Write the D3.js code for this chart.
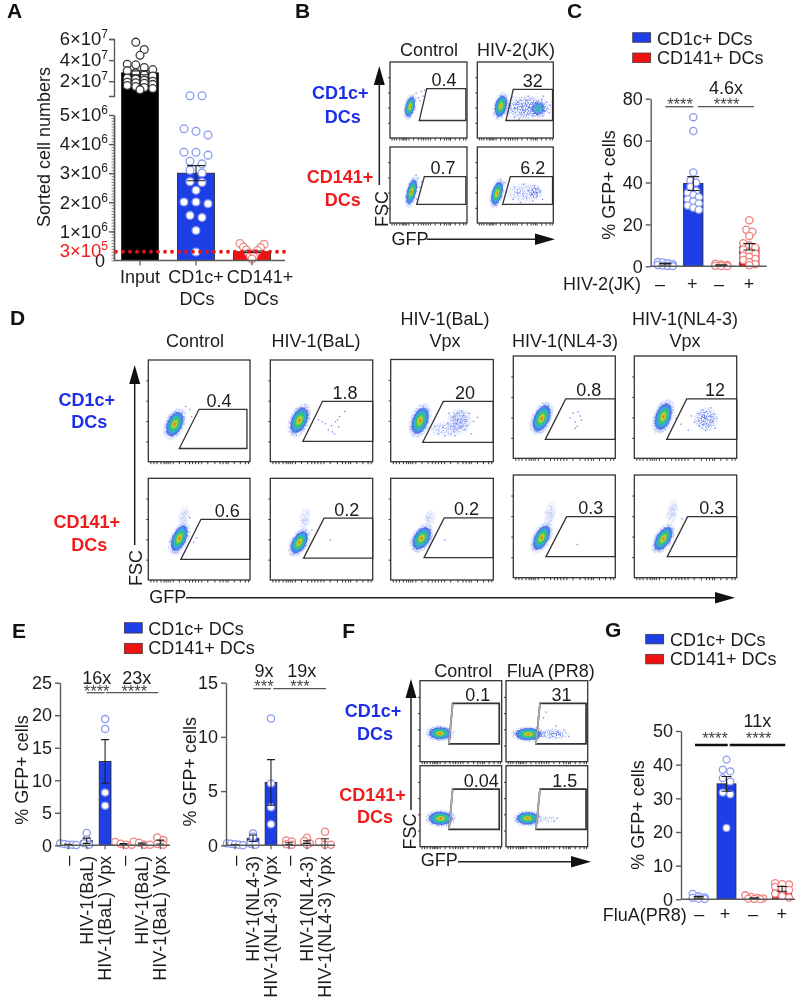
<!DOCTYPE html>
<html>
<head>
<meta charset="utf-8">
<script src="https://cdn.jsdelivr.net/npm/d3@7"></script>
<style>
  html, body { margin: 0; padding: 0; background: #fff; }
  svg { display: block; filter: blur(0.3px); }
  text { font-family: "Liberation Sans", Arial, sans-serif; font-size: 18px; fill: #1c1c1c; }
</style>
</head>
<body>
<svg id="fig" width="800" height="1007"></svg>
<script>
// ---- panel A
const aCategories = ['Input', 'CD1c+', 'CD141+'];
const aBars = [2.8e7, 3.0e6, 3.0e5];
const aErrors = [1.8e6, 2.6e5, 2.5e4];
const aTicksHigh = [6e7, 4e7, 2e7];
const aTicksLow = [5e6, 4e6, 3e6, 2e6, 1e6];
const aInput = [57e6, 50e6, 44.5e6, 36e6, 35.5e6, 33e6, 31e6, 30e6, 28e6, 26e6, 25e6, 23e6, 22e6, 21e6, 20e6, 19e6, 18.5e6, 18e6, 17e6, 16e6, 15e6, 14e6, 13e6, 12e6];
const aCd1c = [6.3e6, 6.3e6, 4.53e6, 4.44e6, 4.31e6, 3.72e6, 3.72e6, 3.62e6, 3.41e6, 3.32e6, 3.1e6, 3.01e6, 2.71e6, 2.68e6, 2.41e6, 2.01e6, 2.01e6, 1.95e6, 1.55e6, 1.48e6, 1.03e6, 2.9e5];
const aCd141 = [5.8e5, 5.6e5, 4.6e5, 4.4e5, 3.6e5, 3.4e5, 2.6e5, 2.4e5, 1.6e5, 1.4e5, 5e4];

// ---- panel C
const cBars = [1, 39.5, 0.5, 9.3];
const cErrors = [0.4, 3.3, 0.2, 1.5];
const cTicks = [0, 20, 40, 60, 80];
const cPoints = [
  [2, 1.8, 1.4, 1, 0.6, 0.4, 0.2, 0.1],
  [71.2, 64.6, 44.8, 41, 40, 38, 36, 35, 34, 33, 32, 31, 30, 29, 28, 27],
  [1.2, 0.9, 0.6, 0.3, 0.2, 0.1],
  [22, 17.5, 16.5, 14.5, 11, 10, 9, 8, 7, 6, 5, 4.5, 3.5, 3, 2, 1, 0.5]
];

// ---- panel E
const eLabelsBal = ['–', 'HIV-1(BaL)', 'HIV-1(BaL) Vpx', '–', 'HIV-1(BaL)', 'HIV-1(BaL) Vpx'];
const eLabelsNl = ['–', 'HIV-1(NL4-3)', 'HIV-1(NL4-3) Vpx', '–', 'HIV-1(NL4-3)', 'HIV-1(NL4-3) Vpx'];
const eBarsBal = [0.1, 0.7, 12.9, 0.2, 0.25, 0.5];
const eErrorsBal = [0.05, 0.4, 3.35, 0.08, 0.1, 0.3];
const eTicksBal = [0, 5, 10, 15, 20, 25];
const ePointsBal = [
  [0.3, 0.2, 0.1, 0.1, 0.05],
  [1.9, 0.9, 0.3, 0.1],
  [19.4, 17.9, 8.1, 6.1],
  [0.5, 0.25, 0.1, 0.1],
  [0.55, 0.4, 0.1, 0.1],
  [1.2, 0.8, 0.2, 0.1]
];
const eBarsNl = [0.05, 0.65, 5.8, 0.15, 0.3, 0.3];
const eErrorsNl = [0.03, 0.3, 2.1, 0.08, 0.12, 0.3];
const eTicksNl = [0, 5, 10, 15];
const ePointsNl = [
  [0.2, 0.15, 0.1, 0.05, 0],
  [1.1, 0.8, 0.15, 0.05],
  [11.7, 5.7, 3.5, 1.95],
  [0.45, 0.35, 0.1, 0.05],
  [0.7, 0.4, 0.2, 0.05],
  [1.25, 0.3, 0.05, 0.05]
];

// ---- panel G
const gBars = [0.6, 34.3, 0.3, 3.1];
const gErrors = [0.25, 2.2, 0.15, 0.7];
const gTicks = [0, 10, 20, 30, 40, 50];
const gPoints = [
  [1.6, 0.9, 0.6, 0.4, 0.2, 0.1],
  [41.5, 38.5, 38, 36, 35, 31.7, 31.2, 21.2],
  [1.2, 0.7, 0.4, 0.3, 0.2, 0.1, 0.05],
  [4.8, 4.5, 4.4, 3.7, 3, 2.8, 1.7, 1, 0.5]
];

// ---- flow plots, all read in plot units 0-100 (y going down)
// gate = [top-left x, top y, bottom-left x, bottom y, right x]
// cloud = [x, y, x radius, y radius, tilt, kind]
const bPercents = ['0.4', '32', '0.7', '6.2'];
const bLabelX = [70, 73, 69, 73];
const bGates = [[47.7, 35, 38, 77, 98.5], [47.3, 36, 37.7, 77, 99], [44.6, 39, 34.7, 75.4, 98.5], [43.5, 39, 33.4, 75.4, 99]];
const bClouds = [
  [[26, 59, 8, 18, 14, 'dense']],
  [[31, 58, 10, 19, 14, 'dense'], [80, 61, 12, 11, 0, 'mid'], [64, 60, 34, 16, 0, 'sparse']],
  [[28, 59, 8, 22, 14, 'dense']],
  [[26, 61, 9, 21, 16, 'dense'], [76, 59, 10, 10, 0, 'sparse'], [60, 60, 24, 14, 0, 'faint']]
];
const bEvents = [
  [[40, 38], [44, 36], [42, 44], [38, 50], [36, 46], [33, 40]],
  [[45, 45], [50, 60], [52, 52], [55, 66], [57, 50], [58, 60], [60, 70], [62, 54], [63, 62], [65, 50], [66, 68], [68, 56], [70, 62], [71, 47], [72, 70], [74, 55], [75, 64], [77, 50], [78, 60], [80, 68], [81, 54], [83, 62], [84, 48], [85, 70], [87, 58], [88, 64], [90, 52], [92, 60], [94, 66], [95, 56], [48, 72], [54, 74], [66, 44], [86, 44]],
  [[40, 45], [36, 40], [38, 52], [33, 36], [34, 68]],
  [[36, 46], [48, 52], [52, 60], [56, 72], [60, 48], [64, 66], [66, 56], [70, 62], [72, 70], [74, 50], [78, 64], [82, 58], [46, 68], [85, 68]]
];

const dPercents = ['0.4', '1.8', '20', '0.8', '12', '0.6', '0.2', '0.2', '0.3', '0.3'];
const dLabelX = [69.5, 73, 72.4, 74, 78.8, 77.7, 74.6, 74, 75.9, 75.6];
const dGates = [
  [49.9, 48.5, 30.5, 87, 97], [51, 40.6, 31.8, 80, 100], [51.3, 41, 31.2, 81, 100], [51.4, 42, 31.4, 81.5, 100], [51.2, 42, 31.6, 81.5, 100],
  [51.8, 40.3, 32, 79.7, 100], [52.5, 39.2, 32.5, 78.5, 100], [52.2, 39, 32.5, 78, 100], [52.3, 40.6, 32, 79.5, 100], [52.1, 40.6, 32.2, 79.5, 100]
];
const dClouds = [
  [[26, 63, 10, 17, 24, 'dense']],
  [[28.3, 59.3, 10, 18, 24, 'dense']],
  [[28.6, 60, 10, 18, 20, 'dense'], [67, 60, 12, 12, 10, 'sparse'], [55, 68, 20, 8, 0, 'faint']],
  [[27.8, 61, 10, 18, 24, 'dense']],
  [[28.3, 59.3, 10, 18, 20, 'dense'], [70, 62, 12, 12, 0, 'sparse']],
  [[30.5, 59, 9, 18, 24, 'dense'], [35, 38, 6, 12, 14, 'faint']],
  [[28.3, 63, 9, 16, 30, 'dense'], [34, 40, 6, 12, 10, 'faint']],
  [[30.2, 59, 10, 16, 32, 'dense'], [38, 39, 6, 9, 10, 'faint']],
  [[27.8, 61, 9, 17, 28, 'dense'], [36, 38, 6, 13, 10, 'faint']],
  [[28.3, 62, 9, 17, 32, 'dense'], [37, 36, 6, 13, 10, 'faint']]
];
const dEvents = [
  [[40, 48], [42, 55], [36, 45]],
  [[46, 58], [50, 60], [53, 62], [56, 68], [59, 64], [60, 70], [62, 72], [63, 60], [65, 58], [66, 65], [67, 55], [72, 50]],
  [[42, 65], [46, 72], [50, 66], [52, 74], [55, 62], [58, 72], [60, 56], [61, 70], [63, 62], [64, 52], [65, 58], [66, 66], [68, 50], [69, 60], [70, 54], [71, 68], [72, 58], [74, 64], [76, 52], [78, 72], [80, 60], [84, 56], [62, 74], [56, 52]],
  [[55, 60], [58, 55], [60, 64], [63, 54], [65, 58], [62, 68], [60, 70], [66, 62]],
  [[40, 60], [45, 66], [52, 72], [55, 58], [58, 64], [62, 56], [63, 68], [65, 60], [66, 52], [67, 66], [68, 58], [69, 72], [70, 54], [71, 62], [72, 68], [73, 58], [74, 50], [75, 64], [77, 56], [78, 70], [80, 60]],
  [[44, 62], [46, 50], [40, 38], [47, 58]],
  [[40, 50], [58, 60]],
  [[52, 60]],
  [[62, 67]],
  [[46, 42]]
];

const fPercents = ['0.1', '31', '0.04', '1.5'];
const fLabelX = [70.6, 68, 75, 72];
const fGates = [[40, 28, 35.5, 78, 97], [41.6, 28, 36.7, 78, 98], [40, 29, 35.5, 78.5, 97], [41.6, 29, 36.7, 78.5, 98]];
const fClouds = [
  [[24.5, 65, 18, 10, 0, 'dense']],
  [[27.3, 66, 21, 10, 0, 'dense'], [58, 66, 19, 7, 0, 'sparse']],
  [[25.3, 65, 19, 11, 0, 'dense']],
  [[26.5, 65, 18, 10, 0, 'dense'], [52, 66, 12, 5, 0, 'faint']]
];
const fEvents = [[], [[45, 45], [48, 38], [60, 55], [70, 60], [76, 68]], [], [[58, 68], [62, 64]]];

const flowTicksY = [20, 40, 60, 80];
const flowTicksX = [2, 5, 8, 12, 15, 17, 19, 21, 24, 30, 36, 40, 43, 46, 49, 52, 58, 65, 70, 73, 76, 78, 84, 90, 95, 98];

// ---- colours
const blue = '#1e3fe6', red = '#f01212', blueText = '#1c2ee8', redText = '#f01c1c';
const blueRing = '#8b9cf0', redRing = '#f08282', darkRing = '#3a3a3a';
const axisGray = '#5a5a5a';

const svg = d3.select('#fig');

// gradients and a speckle texture for the flow populations
const defs = svg.append('defs');
function addGradient(id, stops) {
  const g = defs.append('radialGradient').attr('id', id);
  stops.forEach(s => g.append('stop').attr('offset', s[0]).attr('stop-color', s[1]).attr('stop-opacity', s[2]));
}
addGradient('dense', [[0, '#e8261a', 1], [0.1, '#f0a020', 1], [0.24, '#a8d83a', 1], [0.42, '#35c46a', 1], [0.64, '#2ea6dc', 0.95], [0.86, '#3a5fe8', 0.8], [1, '#5a78ec', 0]]);
addGradient('mid', [[0, '#35c46a', 0.9], [0.45, '#2ea6dc', 0.8], [0.8, '#3a5fe8', 0.6], [1, '#5a78ec', 0]]);
addGradient('halo', [[0, '#3a5ae8', 0.9], [0.75, '#5a78ec', 0.85], [1, '#9db0f4', 0.4]]);
addGradient('sparse', [[0, '#4a68e8', 0.95], [0.6, '#6e88ee', 0.8], [1, '#a0b2f5', 0.25]]);
addGradient('faint', [[0, '#7c92ee', 0.75], [0.6, '#93a6f2', 0.55], [1, '#b0c0f6', 0.1]]);
const grain = defs.append('filter').attr('id', 'grain').attr('x', '-10%').attr('y', '-10%').attr('width', '120%').attr('height', '120%')
  .attr('color-interpolation-filters', 'sRGB');
grain.append('feTurbulence').attr('type', 'fractalNoise').attr('baseFrequency', 0.75).attr('numOctaves', 2).attr('seed', 4).attr('result', 'n');
grain.append('feColorMatrix').attr('in', 'n').attr('type', 'matrix')
  .attr('values', '0 0 0 0 0  0 0 0 0 0  0 0 0 0 0  5 0 0 0 -2.1').attr('result', 'mask');
grain.append('feComposite').attr('in', 'SourceGraphic').attr('in2', 'mask').attr('operator', 'in');

function label(x, y, str, opts) {
  opts = opts || {};
  const t = svg.append('text').attr('x', x).attr('y', y).text(str)
    .attr('text-anchor', opts.anchor || 'middle');
  if (opts.size) t.style('font-size', opts.size + 'px');
  if (opts.bold) t.style('font-weight', 'bold');
  if (opts.color) t.style('fill', opts.color);
  return t;
}
function vertical(x, y, str) {
  label(0, 0, str).attr('transform', `translate(${x},${y}) rotate(-90)`);
}
function panelLetter(x, y, str) {
  label(x, y, str, { anchor: 'start', size: 21, bold: true, color: '#111' });
}
function legend(x, y1, y2, textX, base1, base2, h) {
  [[y1, blue, 'CD1c+ DCs', base1], [y2, red, 'CD141+ DCs', base2]].forEach(r => {
    svg.append('rect').attr('x', x).attr('y', r[0]).attr('width', 18).attr('height', h)
      .attr('fill', r[1]).attr('stroke', '#333').attr('stroke-width', 0.7);
    label(textX, r[3], r[2], { anchor: 'start' });
  });
}
function arrow(x1, y1, x2, y2) {
  const vert = x1 === x2;
  svg.append('line').attr('x1', x1).attr('y1', y1).attr('x2', x2).attr('y2', y2)
    .attr('stroke', '#222').attr('stroke-width', 1.5);
  const head = vert
    ? [[x2 - 5.5, y2], [x2 + 5.5, y2], [x2, y2 - 19]]
    : [[x2, y2 - 5.8], [x2, y2 + 5.8], [x2 + 20, y2]];
  svg.append('path').attr('d', d3.line()(head) + 'Z').attr('fill', '#111');
}
function sigLine(x1, x2, y, w) {
  svg.append('line').attr('x1', x1).attr('x2', x2).attr('y1', y).attr('y2', y)
    .attr('stroke', w > 2 ? '#111' : '#555').attr('stroke-width', w || 1.3);
}
function stars(x, y, str) {
  label(x, y, str, { size: 16.5, color: '#444' });
}

// rows of overlapping values get spread sideways around the bar centre
function swarm(values, y, binPx, gap, maxRow) {
  const sorted = values.slice().sort((a, b) => b - a);
  const rows = [];
  sorted.forEach(v => {
    const row = rows[rows.length - 1];
    if (row && row.length < maxRow && y(row[0]) + binPx > y(v)) row.push(v);
    else rows.push([v]);
  });
  const out = [];
  rows.forEach((row, r) => {
    const g = typeof gap === 'function' ? gap(r) : gap;
    row.forEach((v, i) => out.push({ v: v, dx: (i - (row.length - 1) / 2) * g }));
  });
  return out;
}

function drawBars(cfg) {
  const ids = d3.range(cfg.bars.length);
  const x = d3.scaleBand().domain(ids).range(cfg.xRange).paddingInner(cfg.pad).paddingOuter(cfg.pad / 2);
  const y = cfg.y;
  const g = svg.append('g');

  g.selectAll('rect').data(cfg.bars).enter().append('rect')
    .attr('x', (d, i) => x(i)).attr('width', x.bandwidth())
    .attr('y', d => y(d)).attr('height', d => y(0) - y(d))
    .attr('fill', (d, i) => cfg.fills[i]).attr('stroke', '#222').attr('stroke-width', 0.8);

  cfg.points.forEach((vals, i) => {
    const s = cfg.swarm[i];
    g.append('g').selectAll('circle').data(swarm(vals, y, s[0], s[1], s[2])).enter().append('circle')
      .attr('cx', d => x(i) + x.bandwidth() / 2 + d.dx).attr('cy', d => y(d.v)).attr('r', cfg.r)
      .attr('fill', '#fff').attr('stroke', cfg.rings[i]).attr('stroke-width', 1.3);
  });

  // mean +- sem
  cfg.bars.forEach((b, i) => {
    const cx = x(i) + x.bandwidth() / 2, e = cfg.errors[i], cap = cfg.cap;
    const p = d3.path();
    p.moveTo(cx, y(b + e)); p.lineTo(cx, y(Math.max(b - e, 0)));
    p.moveTo(cx - cap, y(b + e)); p.lineTo(cx + cap, y(b + e));
    p.moveTo(cx - cap, y(Math.max(b - e, 0))); p.lineTo(cx + cap, y(Math.max(b - e, 0)));
    g.append('path').attr('d', p.toString()).attr('fill', 'none').attr('stroke', '#222').attr('stroke-width', 1.1);
  });

  if (cfg.ticks) {
    const ax = g.append('g').attr('transform', `translate(${cfg.axisX},0)`)
      .call(d3.axisLeft(y).tickValues(cfg.ticks).tickSize(5).tickPadding(3).tickSizeOuter(0));
    styleAxis(ax);
  }
  const xAxis = g.append('g').attr('transform', `translate(0,${y(0)})`)
    .call(d3.axisBottom(x).tickSize(cfg.xTick || 0).tickSizeOuter(0).tickFormat(i => (cfg.labels ? cfg.labels[i] : '')));
  xAxis.select('.domain').remove();
  xAxis.selectAll('line').attr('stroke', axisGray).attr('stroke-width', 1.2);
  xAxis.append('line').attr('x1', cfg.axisX).attr('x2', cfg.axisEnd)
    .attr('stroke', axisGray).attr('stroke-width', 1.4);
  return { x: x, xAxis: xAxis };
}
function styleAxis(ax) {
  ax.selectAll('path,line').attr('stroke', axisGray).attr('stroke-width', 1.4);
  ax.selectAll('text').style('font-size', '18px').style('fill', '#1c1c1c');
}

function drawFlow(box, gate, pct, labelX, clouds, events, heavyGate) {
  const x = d3.scaleLinear().domain([0, 100]).range([box[0], box[2]]);
  const y = d3.scaleLinear().domain([0, 100]).range([box[1], box[3]]);
  const g = svg.append('g');
  const tilt = d => `rotate(${d[4]},${x(d[0])},${y(d[1])})`;
  const layered = clouds.slice().reverse();

  // speckled outer part of each population, smooth core on top
  g.selectAll('.outer').data(layered).enter().append('ellipse').attr('class', 'outer')
    .attr('cx', d => x(d[0])).attr('cy', d => y(d[1]))
    .attr('rx', d => x(d[2]) - x(0)).attr('ry', d => y(d[3]) - y(0))
    .attr('transform', tilt)
    .attr('fill', d => (d[5] === 'dense' || d[5] === 'mid' ? 'url(#halo)' : `url(#${d[5]})`))
    .attr('filter', 'url(#grain)');
  g.selectAll('.core').data(layered.filter(d => d[5] === 'dense' || d[5] === 'mid')).enter().append('ellipse').attr('class', 'core')
    .attr('cx', d => x(d[0])).attr('cy', d => y(d[1]))
    .attr('rx', d => (x(d[2]) - x(0)) * 0.8).attr('ry', d => (y(d[3]) - y(0)) * 0.8)
    .attr('transform', tilt)
    .attr('fill', d => `url(#${d[5]})`);
  g.selectAll('.ev').data(events).enter().append('rect').attr('class', 'ev')
    .attr('x', d => x(d[0])).attr('y', d => y(d[1])).attr('width', 1.4).attr('height', 1.4)
    .attr('fill', '#7f93ec');

  const left = g.append('g').attr('transform', `translate(${box[0]},0)`)
    .call(d3.axisLeft(y).tickValues(flowTicksY).tickSize(2).tickFormat(''));
  const bottom = g.append('g').attr('transform', `translate(0,${box[3]})`)
    .call(d3.axisBottom(x).tickValues(flowTicksX).tickSize(2.5).tickFormat(''));
  [left, bottom].forEach(a => {
    a.select('.domain').remove();
    a.selectAll('line').attr('stroke', '#333').attr('stroke-width', 1);
  });
  g.append('rect').attr('x', box[0]).attr('y', box[1]).attr('width', box[2] - box[0]).attr('height', box[3] - box[1])
    .attr('fill', 'none').attr('stroke', '#333').attr('stroke-width', 1.3);

  const poly = [[gate[0], gate[1]], [gate[4], gate[1]], [gate[4], gate[3]], [gate[2], gate[3]]];
  g.append('path').attr('d', d3.line().x(d => x(d[0])).y(d => y(d[1]))(poly) + 'Z')
    .attr('fill', 'none').attr('stroke', '#333').attr('stroke-width', heavyGate ? 1.7 : 1.3);
  if (heavyGate) {
    g.append('line').attr('x1', x(gate[0])).attr('y1', y(gate[1])).attr('x2', x(gate[2])).attr('y2', y(gate[3]))
      .attr('stroke', '#aaa').attr('stroke-width', 1.7);
  }
  label(x(labelX), y(gate[1]) - 2.5, pct);
}

// ============ A
panelLetter(7, 18, 'A');
const yA = d3.scaleLinear().domain([0, 5e6, 6e6, 6e7]).range([260.5, 115, 96, 39]);
const yAHigh = d3.scaleLinear().domain([6e6, 6e7]).range([96, 39]);
const yALow = d3.scaleLinear().domain([0, 5e6]).range([260.5, 115]);
const aPlot = drawBars({
  bars: aBars, errors: aErrors, points: [aInput, aCd1c, aCd141], y: yA,
  xRange: [112, 280], pad: 0.34, fills: ['#000', blue, red], rings: [darkRing, blueRing, redRing],
  r: 3.9, cap: 9, axisX: 114, axisEnd: 285, xTick: 5, labels: ['', '', ''],
  swarm: [[8, 8.5, 4], [7, 12, 3], [2, r => [24, 17, 11, 6, 3, 0][r], 2]]
});
aPlot.xAxis.selectAll('.tick').each(function (d) {
  const t = d3.select(this).select('text').attr('dy', 0).text(null);
  const shift = d === 2 ? 8 : 0;
  t.append('tspan').attr('x', shift).attr('y', 22).text(aCategories[d]);
  if (d > 0) t.append('tspan').attr('x', shift + 1).attr('y', 44).text('DCs');
});
// broken y axis, exponents drawn as superscripts
function powerLabels(ax) {
  ax.selectAll('text').each(function (d) {
    const exp = Math.floor(Math.log10(d));
    const t = d3.select(this).text(null).attr('x', -6);
    t.append('tspan').text(`${Math.round(d / Math.pow(10, exp))}×10`).style('font-size', '18.5px');
    t.append('tspan').text(exp).attr('dy', -7).style('font-size', '12px');
  });
}
const axHigh = svg.append('g').attr('transform', 'translate(114,0)')
  .call(d3.axisLeft(yAHigh).tickValues(aTicksHigh).tickSize(5).tickSizeOuter(5));
styleAxis(axHigh); powerLabels(axHigh);
const axMinor = svg.append('g').attr('transform', 'translate(114,0)')
  .call(d3.axisLeft(yALow).tickValues(d3.range(0, 5e6, 1e5)).tickSize(2.5).tickFormat('').tickSizeOuter(0));
styleAxis(axMinor);
axMinor.selectAll('line').attr('stroke-width', 0.7);
const axLow = svg.append('g').attr('transform', 'translate(114,0)')
  .call(d3.axisLeft(yALow).tickValues(aTicksLow).tickSize(5).tickSizeOuter(0));
styleAxis(axLow); powerLabels(axLow);
label(105, 267, '0', { anchor: 'end' });
const threeE5 = label(108, 257, '3×10', { anchor: 'end', color: redText }).style('font-size', '18.5px');
threeE5.text(null);
threeE5.append('tspan').text('3×10');
threeE5.append('tspan').text('5').attr('dy', -7).style('font-size', '12px');
svg.append('line').attr('x1', 116).attr('x2', 285)
  .attr('y1', yA(3e5)).attr('y2', yA(3e5))
  .attr('stroke', '#f01212').attr('stroke-width', 3.8).attr('stroke-linecap', 'round').attr('stroke-dasharray', '0 7');
vertical(50, 147, 'Sorted cell numbers');

// ============ B
panelLetter(295, 18, 'B');
label(429, 56, 'Control');
label(516, 56, 'HIV-2(JK)');
const bBoxes = [[390, 62, 467, 138], [477.3, 62, 553.3, 138], [390, 147, 467, 223], [477.3, 147, 553.3, 223]];
bBoxes.forEach((b, i) => drawFlow(b, bGates[i], bPercents[i], bLabelX[i], bClouds[i], bEvents[i]));
label(340.3, 99.3, 'CD1c+', { bold: true, color: blueText });
label(342.7, 122.7, 'DCs', { bold: true, color: blueText });
label(340, 182.7, 'CD141+', { bold: true, color: redText });
label(342.7, 205.7, 'DCs', { bold: true, color: redText });
arrow(379.3, 185, 379.3, 85);
vertical(387.7, 209, 'FSC');
label(391.5, 245, 'GFP', { anchor: 'start' });
arrow(427, 239.3, 535, 239.3);

// ============ C
panelLetter(567, 18, 'C');
legend(632.7, 32.7, 53, 657, 44.5, 63.5, 9.6);
const yC = d3.scaleLinear().domain([0, 80]).range([266.3, 98.7]);
drawBars({
  bars: cBars, errors: cErrors, points: cPoints, y: yC,
  xRange: [651.3, 763.3], pad: 0.31, fills: [blue, blue, red, red], rings: [blueRing, blueRing, redRing, redRing],
  r: 3.6, cap: 6, ticks: cTicks, axisX: 650.7, axisEnd: 766.7,
  swarm: [[4, 5, 4], [6, 5.5, 4], [4, 6, 3], [6, 6, 3]]
});
vertical(615, 185, '% GFP+ cells');
label(602, 290, 'HIV-2(JK)');
['–', '+', '–', '+'].forEach((s, i) => label([660, 692.3, 719, 749][i], 290, s));
sigLine(665.3, 693.3, 106.7);
sigLine(698, 754, 106.7);
stars(680, 109.5, '****');
stars(726.7, 109.5, '****');
label(726, 94, '4.6x');

// ============ D
panelLetter(10, 325, 'D');
label(195, 347.3, 'Control');
label(316, 347.3, 'HIV-1(BaL)');
label(445, 325, 'HIV-1(BaL)');
label(445, 347.3, 'Vpx');
label(565, 347.3, 'HIV-1(NL4-3)');
label(685, 325, 'HIV-1(NL4-3)');
label(685, 347.3, 'Vpx');
const dBoxes = [
  [148.3, 360, 250, 461.7], [270.3, 360, 372.7, 461.7], [390.7, 359.5, 493.3, 461.7], [513.3, 356, 615.3, 458.3], [634.3, 356, 736.7, 458.3],
  [148.3, 478.3, 250, 580], [270.3, 478.3, 372.7, 580], [390.7, 478.3, 493.3, 580], [513.3, 475, 615.3, 577.7], [634.3, 475, 736.7, 577.7]
];
dBoxes.forEach((b, i) => drawFlow(b, dGates[i], dPercents[i], dLabelX[i], dClouds[i], dEvents[i]));
label(86.7, 405.7, 'CD1c+', { bold: true, color: blueText });
label(89.3, 428.3, 'DCs', { bold: true, color: blueText });
label(86.7, 527.7, 'CD141+', { bold: true, color: redText });
label(89.3, 550.7, 'DCs', { bold: true, color: redText });
arrow(134.7, 545, 134.7, 384);
vertical(142, 568, 'FSC');
label(149.3, 603.3, 'GFP', { anchor: 'start' });
arrow(186, 597.7, 715, 597.7);

// ============ E
panelLetter(12, 638, 'E');
legend(124.3, 622.7, 643.3, 148.3, 635, 654, 10.4);
const eFills = [blue, blue, blue, red, red, red];
const eRings = [blueRing, blueRing, blueRing, redRing, redRing, redRing];
const eSwarm = [[3, 4, 5], [2.5, 5, 4], [3, 5, 4], [3, 5.5, 4], [3, 5.5, 4], [3, 6, 4]];
function rotateLabels(plot) {
  plot.xAxis.selectAll('.tick text').attr('transform', 'rotate(-90)')
    .attr('text-anchor', 'end').attr('x', -10.5).attr('y', 6).attr('dy', 0);
}
const yE1 = d3.scaleLinear().domain([0, 25]).range([845.3, 682.7]);
rotateLabels(drawBars({
  bars: eBarsBal, errors: eErrorsBal, points: ePointsBal, y: yE1, labels: eLabelsBal,
  xRange: [59.1, 169.5], pad: 0.36, fills: eFills, rings: eRings,
  r: 3.6, cap: 4, ticks: eTicksBal, axisX: 60, axisEnd: 170, xTick: 4, swarm: eSwarm
}));
vertical(28, 770, '% GFP+ cells');
sigLine(86.7, 104.7, 692.7);
sigLine(106, 158.3, 692.7);
stars(96.7, 696.7, '****');
stars(134.3, 696.7, '****');
label(96.7, 684, '16x');
label(136.7, 684, '23x');

const yE2 = d3.scaleLinear().domain([0, 15]).range([845.3, 682.7]);
rotateLabels(drawBars({
  bars: eBarsNl, errors: eErrorsNl, points: ePointsNl, y: yE2, labels: eLabelsNl,
  xRange: [226, 334], pad: 0.35, fills: eFills, rings: eRings,
  r: 3.6, cap: 4, ticks: eTicksNl, axisX: 226, axisEnd: 335, xTick: 4, swarm: eSwarm
}));
vertical(196, 771.7, '% GFP+ cells');
sigLine(253.3, 271, 688.7);
sigLine(273.3, 326, 688.7);
stars(264, 692, '***');
stars(300, 692, '***');
label(264, 676.7, '9x');
label(301.7, 676.7, '19x');

// ============ F
panelLetter(342.3, 638, 'F');
label(463.3, 676.7, 'Control');
label(550.7, 676.7, 'FluA (PR8)');
const fBoxes = [[420, 680.7, 501.7, 761.7], [506, 680.7, 587.7, 761.7], [420, 765.7, 501.7, 846.7], [506, 765.7, 587.7, 846.7]];
fBoxes.forEach((b, i) => drawFlow(b, fGates[i], fPercents[i], fLabelX[i], fClouds[i], fEvents[i], true));
label(373, 716.7, 'CD1c+', { bold: true, color: blueText });
label(375, 740, 'DCs', { bold: true, color: blueText });
label(372.5, 801, 'CD141+', { bold: true, color: redText });
label(375, 823, 'DCs', { bold: true, color: redText });
arrow(411, 810, 411, 698);
vertical(415.5, 831.5, 'FSC');
label(420.7, 866, 'GFP', { anchor: 'start' });
arrow(458, 861.7, 571, 861.7);

// ============ G
panelLetter(605, 637, 'G');
legend(645.7, 634.3, 654.3, 670, 646, 665, 9.6);
const yG = d3.scaleLinear().domain([0, 50]).range([899.3, 731]);
drawBars({
  bars: gBars, errors: gErrors, points: gPoints, y: yG,
  xRange: [684.8, 796], pad: 0.32, fills: [blue, blue, red, red], rings: [blueRing, blueRing, redRing, redRing],
  r: 3.5, cap: 5, ticks: gTicks, axisX: 681, axisEnd: 795,
  swarm: [[4, 6, 3], [6, 7.5, 3], [4, 6, 4], [5, 7, 3]]
});
vertical(644, 815, '% GFP+ cells');
label(644.7, 921, 'FluA(PR8)');
['–', '+', '–', '+'].forEach((s, i) => label([699.3, 725, 753, 781.7][i], 920, s));
sigLine(695, 727.7, 745, 2.6);
sigLine(729.7, 785.3, 745, 2.6);
stars(715, 743.7, '****');
stars(758.7, 743.7, '****');
label(757.3, 727.3, '11x');
</script>
</body>
</html>
